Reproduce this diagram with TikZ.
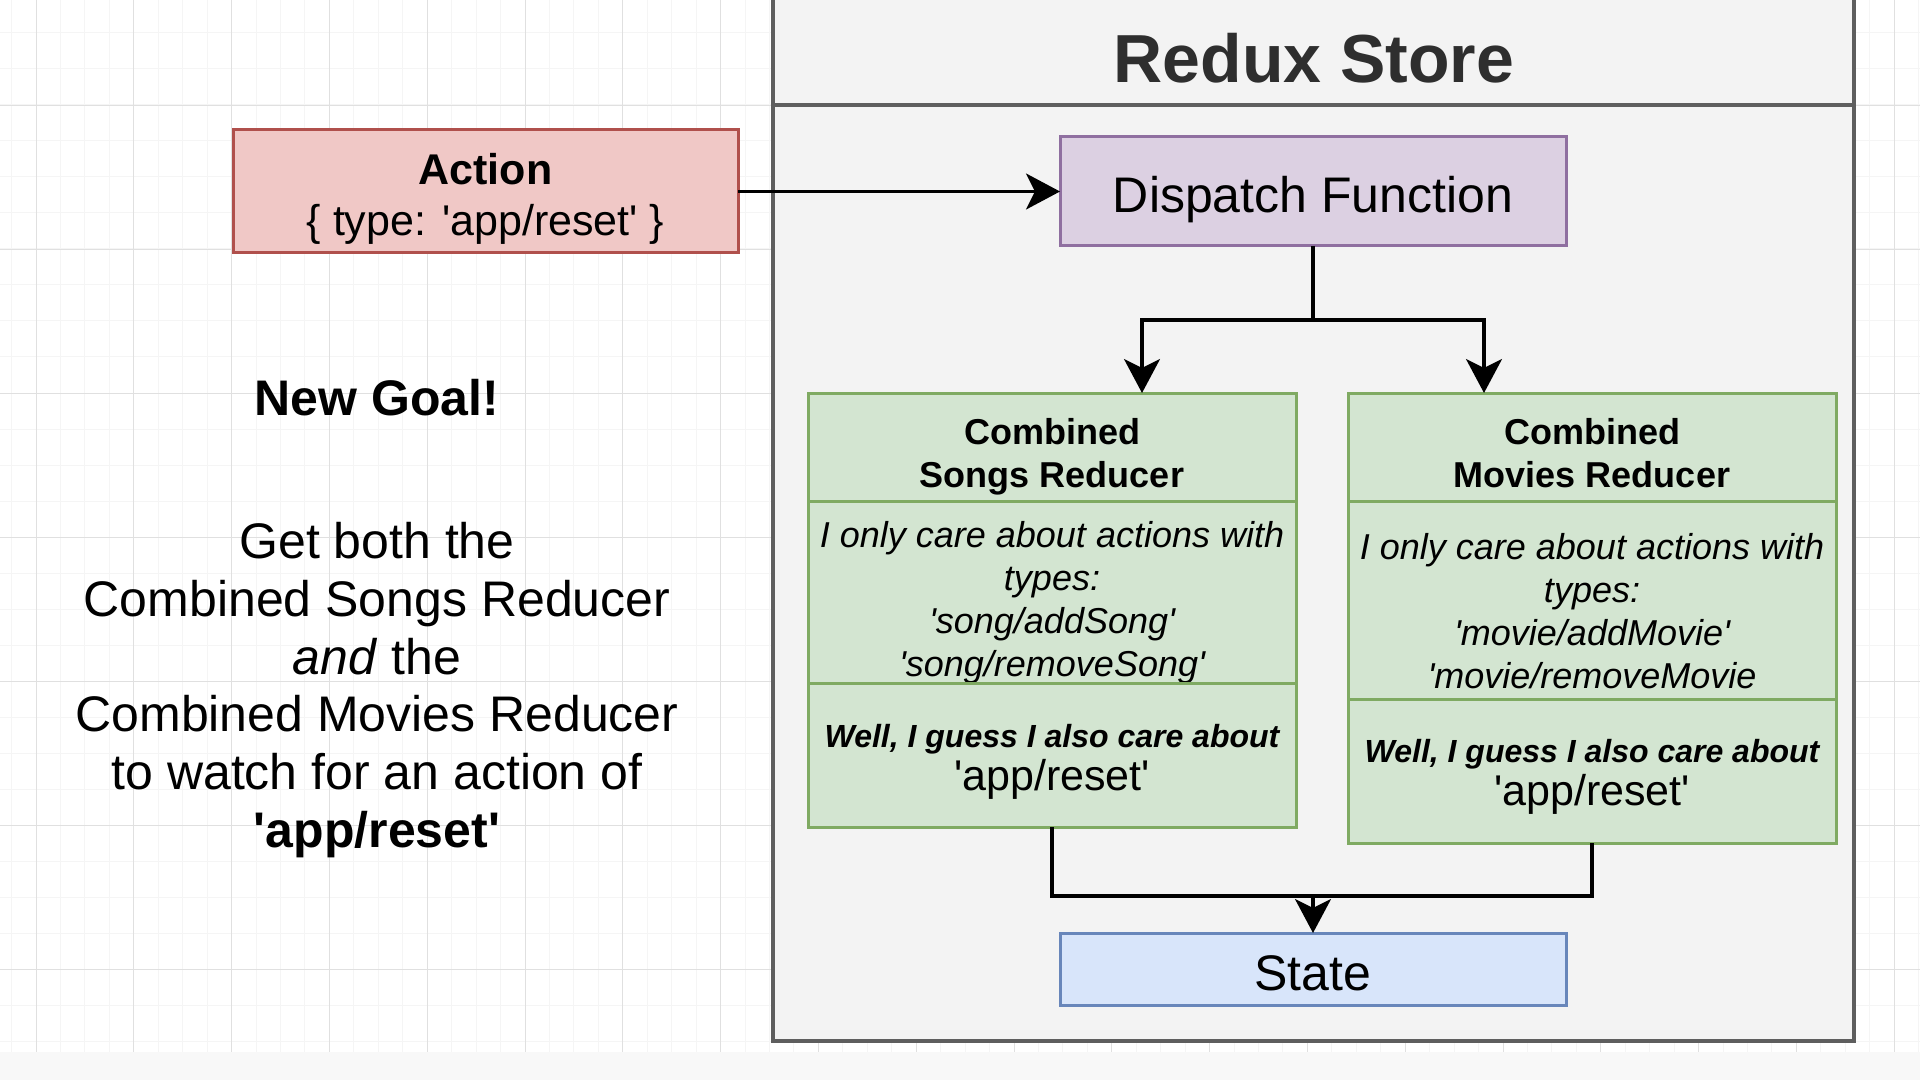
\documentclass[tikz,border=0pt]{standalone}
\usepackage{fontspec}
\setmainfont{Liberation Sans}[Ligatures=TeXOff]
\usetikzlibrary{arrows.meta,positioning}
% a strut on the first line, to drop the text a little in its box
\newcommand\headroom[1]{\rule{0pt}{#1}}

\begin{document}
\begin{tikzpicture}
[x=0.5pt,y=-0.5pt,line join=miter,
% Styles
minor grid/.style={line width=0.5pt,draw=gridminor},
major grid/.style={line width=0.4pt,draw=gridmajor},
store/.style={line width=2pt,draw=storeline},
title/.style={text=titlecolor,font=\fontsize{34}{40}\selectfont\bfseries},
box/.style={draw,line width=1.5pt,inner sep=0pt,outer sep=0pt,align=center},
action box/.style={box,draw=actionline,fill=actionfill,minimum width=252.5pt,minimum height=61.5pt,font=\fontsize{21.5}{25.5}\selectfont},
dispatch box/.style={box,draw=dispatchline,fill=dispatchfill,minimum width=253pt,minimum height=54.5pt,font=\fontsize{25}{30}\selectfont},
state box/.style={box,draw=stateline,fill=statefill,minimum width=253pt,minimum height=36pt,font=\fontsize{25}{30}\selectfont},
reducer/.style={box,draw=reducerline,fill=reducerfill,minimum width=244pt},
reducer head/.style={reducer,minimum height=54pt,font=\fontsize{18}{21.5}\selectfont\bfseries},
reducer body/.style={reducer,font=\fontsize{18}{21.5}\selectfont\itshape},
reducer foot/.style={reducer,minimum height=72pt,font=\fontsize{21.5}{21.5}\selectfont},
link/.style={line width=1.6pt},
flow/.style={link,-{Stealth[length=17pt,width=18pt,inset=4.5pt]}},
big text/.style={font=\fontsize{25}{28.85}\selectfont,align=center}]
% Colors
\definecolor{gridminor}{HTML}{F5F5F5}
\definecolor{gridmajor}{HTML}{E0E0E0}
\definecolor{storefill}{HTML}{F3F3F3}
\definecolor{storeline}{HTML}{5E5E5E}
\definecolor{titlecolor}{HTML}{2E2E2E}
\definecolor{actionfill}{HTML}{F0C8C6}
\definecolor{actionline}{HTML}{B0504C}
\definecolor{dispatchfill}{HTML}{DCD0E2}
\definecolor{dispatchline}{HTML}{8F6FA0}
\definecolor{reducerfill}{HTML}{D3E5D1}
\definecolor{reducerline}{HTML}{7FAA62}
\definecolor{statefill}{HTML}{D8E5FA}
\definecolor{stateline}{HTML}{6886BA}
\useasboundingbox (0,0) rectangle (1920,1080);
\fill[white] (0,0) rectangle (1920,1080);
% Grid
\foreach \i in {0,...,78}
\draw[minor grid] ({11.55+24.45*\i},0) -- ++(0,1080);
\foreach \i in {0,...,29}
\draw[minor grid] (0,{33+36*\i}) -- ++(1920,0);
\foreach \i in {0,...,19}
\draw[major grid] ({36+97.8*\i},0) -- ++(0,1080);
\foreach \i in {0,...,6}
\draw[major grid] (0,{105+144*\i}) -- ++(1920,0);
\fill[gridminor!70] (0,1052) rectangle (1920,1080);
% The store
\filldraw[store,fill=storefill] (773,-10) rectangle (1854,1041);
\draw[store] (773,105) -- (1854,105);
\node[title] (store title) at (1314,58) {Redux Store};
% Left column
\node[font=\fontsize{25}{30}\selectfont\bfseries] (goal) at (377,398) {New Goal!};
\node[big text] (goal text) at (377,690)
{Get both the\\Combined Songs Reducer\\\textit{and} the\\Combined Movies Reducer\\to watch for an action of\\\textbf{'app/reset'}};
% Boxes
\node[action box] (action) at (485.5,191.5)
{\headroom{22.7pt}\textbf{Action}\\\{ type: 'app/reset' \}};
\node[dispatch box] (dispatch) at (1313,191.5) {\headroom{26.3pt}Dispatch Function};
\node[state box] (state) at (1313,969) {\headroom{22pt}State};
\node[reducer head] (songs head) at (1052,447) {\headroom{23pt}Combined\\Songs Reducer};
\node[reducer body,minimum height=90pt,below=0pt of songs head] (songs body)
{\headroom{23pt}I only care about actions with\\types:\\'song/addSong'\\'song/removeSong'};
\node[reducer foot,below=0pt of songs body] (songs foot)
{{\fontsize{16}{21.5}\selectfont\bfseries\itshape\headroom{17.7pt}Well, I guess I also care about}\\'app/reset'};
\node[reducer head] (movies head) at (1592,447) {\headroom{19.3pt}Combined\\Movies Reducer};
\node[reducer body,minimum height=99pt,below=0pt of movies head] (movies body)
{\headroom{24pt}I only care about actions with\\types:\\'movie/addMovie'\\'movie/removeMovie};
\node[reducer foot,below=0pt of movies body] (movies foot)
{{\fontsize{16}{21.5}\selectfont\bfseries\itshape\headroom{17.7pt}Well, I guess I also care about}\\'app/reset'};
% Connectors
\draw[flow] (action.east) -- (dispatch.west);
\draw[flow] (dispatch.south) -- ++(0,74) -| ([xshift=45pt]songs head.north);
\draw[flow] (dispatch.south) -- ++(0,74) -| ([xshift=-54pt]movies head.north);
\coordinate (join) at (1313,896);
\draw[link] (songs foot.south) |- (join) -| (movies foot.south);
\draw[flow] (join) -- (state.north);
\end{tikzpicture}
\end{document}
